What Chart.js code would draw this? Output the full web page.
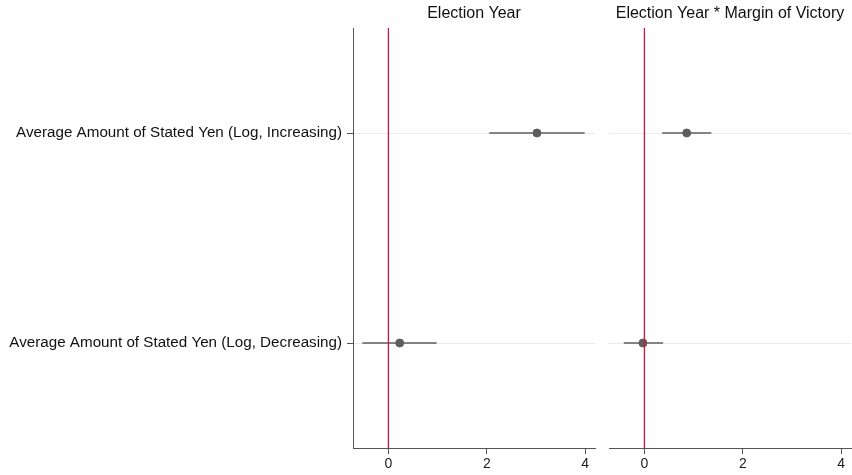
<!DOCTYPE html>
<html>
<head>
<meta charset="utf-8">
<script src="https://cdn.jsdelivr.net/npm/chart.js@4.4.1/dist/chart.umd.min.js"></script>
<style>
  html, body { margin: 0; padding: 0; background: #fff; }
  #wrap { position: relative; width: 852px; height: 475px; overflow: hidden; }
  #left { position: absolute; left: 0; top: 0; }
  #right { position: absolute; left: 600px; top: 0; }
</style>
</head>
<body>
<div id="wrap">
  <canvas id="left" width="600" height="475"></canvas>
  <canvas id="right" width="262" height="475"></canvas>
</div>
<script>
// Outcomes shown as rows
const outcomes = [
  'Average Amount of Stated Yen (Log, Increasing)',
  'Average Amount of Stated Yen (Log, Decreasing)'
];
// Panel titles
const panelTitles = ['Election Year', 'Election Year * Margin of Victory'];
// Point estimates and confidence bounds, one array per panel
const electionEst = [3.02, 0.23];
const electionLo  = [2.05, -0.53];
const electionHi  = [3.99, 0.98];
const marginEst = [0.86, -0.03];
const marginLo  = [0.36, -0.42];
const marginHi  = [1.36, 0.38];
// Axis ticks
const xTicks = [0, 2, 4];
const xMin = -0.72, xMax = 4.2;

const FONT = 'Liberation Sans, Arial, Helvetica, sans-serif';
const AXIS = '#555555';
const MARK = '#5e5e5e';
const REF = '#d3123d';

// Vertical reference line at zero
const zeroLine = {
  id: 'zeroLine',
  afterDatasetsDraw(chart) {
    const { ctx, chartArea, scales } = chart;
    const px = scales.x.getPixelForValue(0);
    ctx.save();
    ctx.strokeStyle = REF;
    ctx.lineWidth = 1.3;
    ctx.beginPath();
    ctx.moveTo(px, chartArea.top);
    ctx.lineTo(px, chartArea.bottom);
    ctx.stroke();
    ctx.restore();
  }
};

function buildDatasets(est, lo, hi) {
  const sets = [];
  outcomes.forEach((o, i) => {
    sets.push({
      type: 'line',
      data: [{ x: lo[i], y: o }, { x: hi[i], y: o }],
      borderColor: MARK,
      borderWidth: 1.4,
      pointRadius: 0,
      fill: false,
      order: 2
    });
  });
  sets.push({
    type: 'scatter',
    data: outcomes.map((o, i) => ({ x: est[i], y: o })),
    backgroundColor: MARK,
    borderColor: MARK,
    pointRadius: 4,
    pointHoverRadius: 4,
    order: 1
  });
  return sets;
}

function makePanel(canvasId, title, est, lo, hi, showLabels) {
  return new Chart(document.getElementById(canvasId), {
    type: 'scatter',
    data: { datasets: buildDatasets(est, lo, hi) },
    options: {
      responsive: false,
      animation: false,
      events: [],
      layout: {
        padding: showLabels ? { left: 0, right: 4, top: 0, bottom: 0 }
                            : { left: 0, right: 11, top: 0, bottom: 0 }
      },
      plugins: {
        legend: { display: false },
        tooltip: { enabled: false },
        title: {
          display: true,
          text: title,
          fullSize: false,
          color: '#111',
          font: { family: FONT, size: 16, weight: 'normal' },
          padding: { top: 4, bottom: 4.8 }
        }
      },
      scales: {
        x: {
          type: 'linear',
          min: xMin,
          max: xMax,
          afterBuildTicks: s => { s.ticks = xTicks.map(v => ({ value: v })); },
          afterFit: s => { s.height = 27; },
          grid: {
            drawOnChartArea: false,
            drawTicks: true,
            tickLength: 6,
            tickColor: AXIS
          },
          border: { display: true, color: AXIS, width: 1 },
          ticks: {
            color: '#222',
            font: { family: FONT, size: 14 },
            padding: 2,
            maxRotation: 0
          }
        },
        y: {
          type: 'category',
          labels: outcomes,
          offset: true,
          afterFit: s => { s.width = showLabels ? 353 : 9; },
          grid: {
            offset: false,
            color: '#ebebeb',
            lineWidth: 1,
            drawTicks: showLabels,
            tickLength: 6,
            tickColor: AXIS
          },
          border: { display: showLabels, color: AXIS, width: 1 },
          ticks: {
            display: showLabels,
            color: '#111',
            font: { family: FONT, size: 15.2 },
            padding: 5
          }
        }
      }
    },
    plugins: [zeroLine]
  });
}

makePanel('left', panelTitles[0], electionEst, electionLo, electionHi, true);
makePanel('right', panelTitles[1], marginEst, marginLo, marginHi, false);
</script>
</body>
</html>
